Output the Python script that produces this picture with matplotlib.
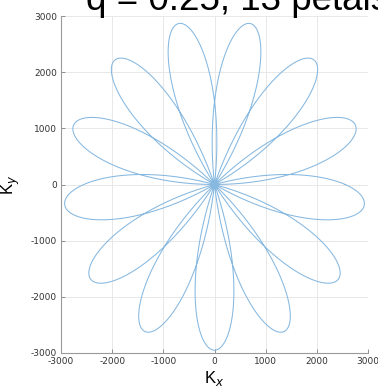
import numpy as np
import matplotlib
matplotlib.use("Agg")
import matplotlib.pyplot as plt

# Rosette trajectory parameters
k_max = 2950.0          # peak radius of each petal
petal_count = 13        # numerator of the rose ratio
petal_spread = 3        # denominator of the rose ratio (petals overlap)
start_angle = -np.pi / 2

tick_values = [-3000, -2000, -1000, 0, 1000, 2000, 3000]
tick_labels = ["-3000", "-2000", "-1000", "0", "1000", "2000", "3000"]
title_text = "q = 0.25, 13 petals"

ratio = petal_count / petal_spread
theta = np.linspace(0, petal_spread * np.pi, 8000)
r = k_max * np.cos(ratio * (theta - start_angle))
kx = r * np.cos(theta)
ky = r * np.sin(theta)

fig = plt.figure(figsize=(3.78, 3.90), dpi=100)
ax = fig.add_axes([61 / 378, 1 - 353 / 390, 307 / 378, 337 / 390])

ax.plot(kx, ky, color="#86b8e0", lw=0.75)

ax.set_xlim(-3000, 3000)
ax.set_ylim(-3000, 3000)
ax.set_xticks(tick_values)
ax.set_xticklabels(tick_labels)
ax.set_yticks(tick_values)
ax.set_yticklabels(tick_labels)
ax.grid(True, color="#e8e8e8", lw=0.7)
ax.set_axisbelow(True)
ax.tick_params(direction="in", length=3, width=0.6, colors="#808080",
               labelsize=6.5, labelcolor="#333333", pad=3)
for side in ("top", "right"):
    ax.spines[side].set_visible(False)
for side in ("left", "bottom"):
    ax.spines[side].set_color("#9a9a9a")
    ax.spines[side].set_linewidth(0.8)

ax.set_xlabel("K$_x$", fontsize=12, family="Liberation Sans", labelpad=2)
ax.set_ylabel("K$_y$", fontsize=12, family="Liberation Sans", labelpad=6)

fig.text(86 / 378, 1 - 10.5 / 390, title_text, fontsize=26.5,
         family="Liberation Sans", ha="left", va="baseline")

fig.savefig("out.png", dpi=100)
